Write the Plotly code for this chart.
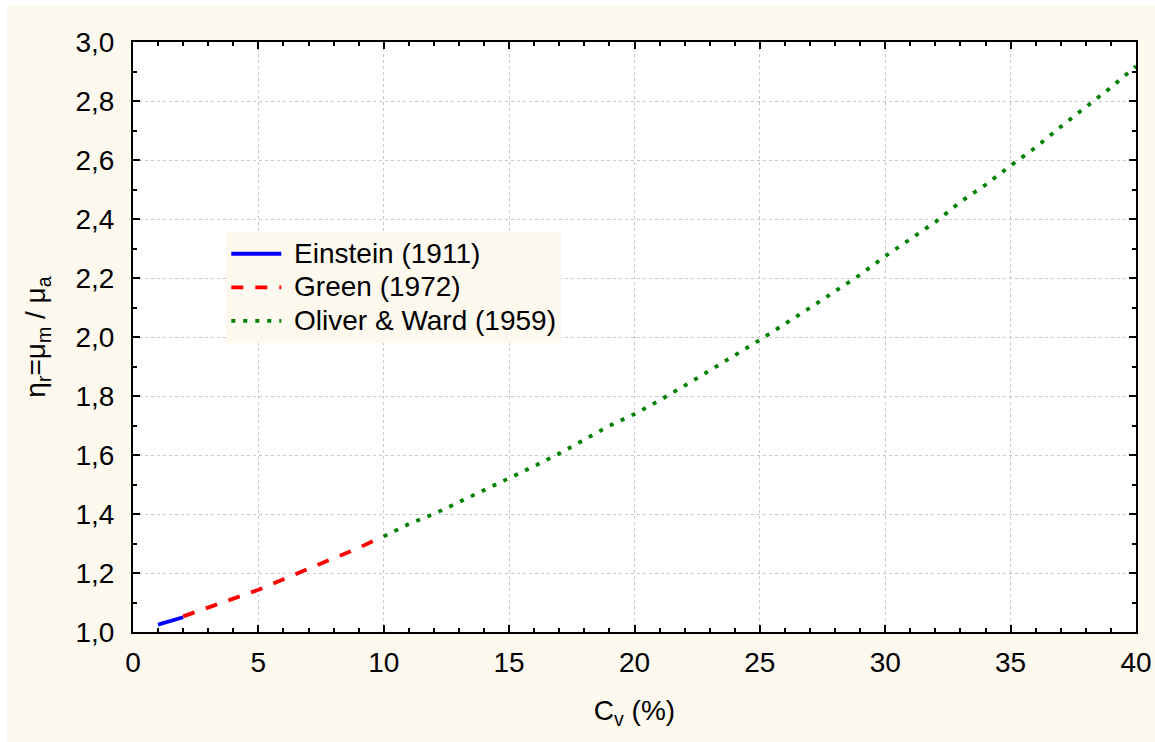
import plotly.graph_objects as go

# Data
einstein_x = [1, 2]
einstein_y = [1.025, 1.05]

green_x = [2, 3, 4, 5, 6, 7, 8, 9, 10]
green_y = [1.053, 1.083, 1.113, 1.143, 1.179, 1.213, 1.250, 1.285, 1.326]

oliver_x = list(range(10, 41))
oliver_y = [1.324, 1.366, 1.400, 1.440, 1.480, 1.521, 1.562, 1.605, 1.653, 1.699,
            1.739, 1.785, 1.835, 1.885, 1.938, 1.990, 2.043, 2.099, 2.155, 2.211,
            2.274, 2.331, 2.390, 2.458, 2.516, 2.581, 2.643, 2.713, 2.780, 2.846,
            2.918]

series_names = ["Einstein (1911)", "Green (1972)", "Oliver & Ward (1959)"]

x_ticks = [0, 5, 10, 15, 20, 25, 30, 35, 40]
y_ticks = [1.0, 1.2, 1.4, 1.6, 1.8, 2.0, 2.2, 2.4, 2.6, 2.8, 3.0]

CREAM = "#FEF9EF"
FONT = "Liberation Sans, Arial, sans-serif"
FS = 28

W, H = 1155, 742
ML, MR, MT, MB = 133, 19, 42, 110
PW, PH = W - ML - MR, H - MT - MB


def legend_label(s):
    return "<span style='font-size:28px'>&nbsp;" + s + "</span>"


fig = go.Figure()
fig.add_trace(go.Scatter(x=einstein_x, y=einstein_y, mode="lines", name=legend_label(series_names[0]),
                         line=dict(color="#0000FF", width=3.8)))
fig.add_trace(go.Scatter(x=green_x, y=green_y, mode="lines", name=legend_label(series_names[1]),
                         line=dict(color="#FF0000", width=3.8, dash="12px,12px")))
fig.add_trace(go.Scatter(x=oliver_x, y=oliver_y, mode="lines", name=legend_label(series_names[2]),
                         line=dict(color="#008000", width=3.8, dash="4px,8px")))

axis_common = dict(
    showline=True, linecolor="black", linewidth=2, mirror="ticks",
    ticks="inside", ticklen=7, tickwidth=2, tickcolor="black",
    showgrid=True, gridcolor="#C8C8C8", griddash="dot", gridwidth=1,
    zeroline=False, automargin=False,
    tickfont=dict(family=FONT, size=FS, color="black"),
)

fig.update_xaxes(
    range=[0, 40], tickvals=x_ticks, ticklabelstandoff=4,
    minor=dict(ticks="inside", dtick=1, ticklen=4, tickwidth=1.5, tickcolor="black", showgrid=False),
    title=dict(text="C<sub>v</sub> (%)", font=dict(family=FONT, size=FS, color="black"), standoff=24),
    **axis_common,
)
fig.update_yaxes(
    range=[1.0, 3.0], tickvals=y_ticks, tickformat=".1f", ticklabelstandoff=11,
    minor=dict(ticks="inside", dtick=0.1, ticklen=4, tickwidth=1.5, tickcolor="black", showgrid=False),
    title=dict(text="η<sub>r</sub>=μ<sub>m</sub> / μ<sub>a</sub>",
               font=dict(family=FONT, size=FS, color="black"), standoff=22),
    **axis_common,
)

fig.update_layout(
    width=W, height=H,
    margin=dict(l=ML, r=MR, t=MT, b=MB),
    paper_bgcolor=CREAM, plot_bgcolor="white",
    separators=", ",
    font=dict(family=FONT, size=FS, color="black"),
    legend=dict(
        x=0.093, y=0.678, xanchor="left", yanchor="top",
        bgcolor=CREAM, borderwidth=0,
        font=dict(family=FONT, size=23.5, color="black"),
        itemwidth=50, tracegroupgap=0,
    ),
    shapes=[
        # thin white page border at top and left, as in the reference
        dict(type="rect", xref="paper", yref="paper", x0=-0.3, x1=1.3,
             y0=1 + (MT - 6) / PH, y1=1.2, fillcolor="white", line=dict(width=0), layer="below"),
        dict(type="rect", xref="paper", yref="paper", x0=-0.3, x1=(7 - ML) / PW,
             y0=-0.3, y1=1.2, fillcolor="white", line=dict(width=0), layer="below"),
    ],
)

fig.write_html("out.html", config={"displayModeBar": False},
               post_script="document.body.style.margin='0';document.body.style.overflow='hidden';")
